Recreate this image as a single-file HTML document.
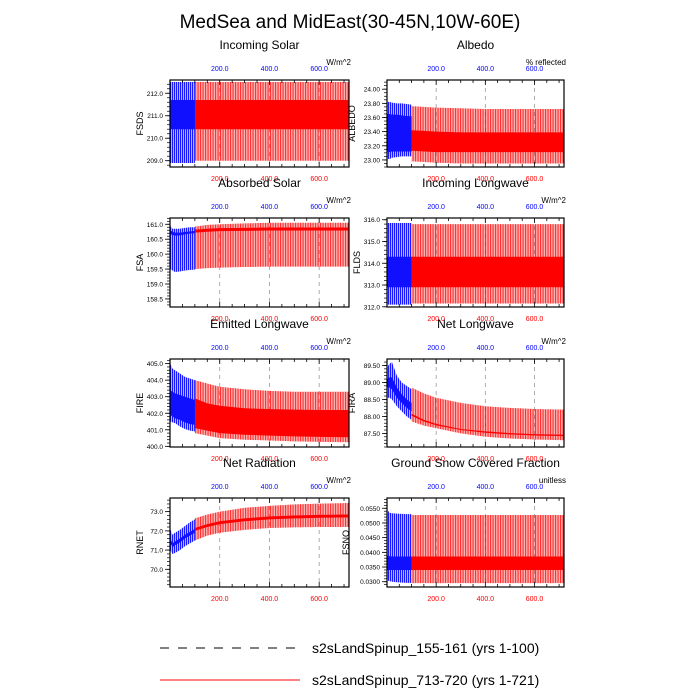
<!DOCTYPE html>
<html><head><meta charset="utf-8"><style>
body{margin:0;background:#fff;}
svg{display:block;font-family:"Liberation Sans",sans-serif;}
</style></head><body>
<svg id="chart" width="700" height="700" viewBox="0 0 700 700">
<defs>
<pattern id="pr" width="2.5" height="10" patternUnits="userSpaceOnUse"><rect x="0" y="0" width="1.2" height="10" fill="#ff0000" fill-opacity="0.8"/><rect x="1.2" y="0" width="1.3" height="10" fill="#ff0000" fill-opacity="0.3"/></pattern>
<pattern id="pb" width="2" height="10" patternUnits="userSpaceOnUse"><rect x="0" y="0" width="1" height="10" fill="#0000ff" fill-opacity="0.9"/><rect x="1" y="0" width="1" height="10" fill="#0000ff" fill-opacity="0.3"/></pattern>
</defs>
<text x="350" y="28" text-anchor="middle" font-size="19">MedSea and MidEast(30-45N,10W-60E)</text>
<g>
<line x1="160" y1="648" x2="300" y2="648" stroke="#000" stroke-width="1" stroke-dasharray="9,9"/>
<text x="312" y="653" font-size="14">s2sLandSpinup_155-161 (yrs 1-100)</text>
<line x1="160" y1="680" x2="300" y2="680" stroke="#ff0000" stroke-width="1"/>
<text x="312" y="685" font-size="14">s2sLandSpinup_713-720 (yrs 1-721)</text>
</g>
</svg>
<script>
const blueYears = [1, 10, 20, 40, 60, 80, 100];
const redYears = [100, 150, 200, 300, 400, 500, 600, 721];
const xTicks = [200, 400, 600];
const xTickLabels = ["200.0", "400.0", "600.0"];

// FSDS
const fsdsBlueMax = [212.5, 212.5, 212.5, 212.5, 212.5, 212.5, 212.5];
const fsdsBlueMin = [208.9, 208.9, 208.9, 208.9, 208.9, 208.9, 208.9];
const fsdsBlueHi = [211.7, 211.7, 211.7, 211.7, 211.7, 211.7, 211.7];
const fsdsBlueLo = [210.4, 210.4, 210.4, 210.4, 210.4, 210.4, 210.4];
const fsdsRedMax = [212.5, 212.5, 212.5, 212.5, 212.5, 212.5, 212.5, 212.5];
const fsdsRedMin = [209.0, 209.0, 209.0, 209.0, 209.0, 209.0, 209.0, 209.0];
const fsdsRedHi = [211.7, 211.7, 211.7, 211.7, 211.7, 211.7, 211.7, 211.7];
const fsdsRedLo = [210.4, 210.4, 210.4, 210.4, 210.4, 210.4, 210.4, 210.4];
const fsdsTicks = [209.0, 210.0, 211.0, 212.0];

// ALBEDO
const albBlueMax = [23.82, 23.82, 23.81, 23.80, 23.80, 23.79, 23.78];
const albBlueMin = [23.02, 23.01, 23.03, 23.04, 23.05, 23.05, 23.05];
const albBlueHi = [23.65, 23.65, 23.64, 23.64, 23.63, 23.62, 23.62];
const albBlueLo = [23.12, 23.11, 23.12, 23.12, 23.12, 23.12, 23.12];
const albRedMax = [23.76, 23.75, 23.74, 23.73, 23.72, 23.72, 23.72, 23.72];
const albRedMin = [22.98, 22.97, 22.96, 22.95, 22.95, 22.95, 22.95, 22.95];
const albRedHi = [23.42, 23.41, 23.40, 23.39, 23.39, 23.39, 23.39, 23.39];
const albRedLo = [23.13, 23.12, 23.11, 23.11, 23.11, 23.11, 23.11, 23.11];
const albTicks = [23.0, 23.2, 23.4, 23.6, 23.8, 24.0];

// FSA
const fsaBlueMax = [160.95, 160.85, 160.85, 160.85, 160.88, 160.9, 160.9];
const fsaBlueMin = [159.5, 159.45, 159.4, 159.42, 159.45, 159.47, 159.48];
const fsaBlueHi = [160.8, 160.75, 160.72, 160.72, 160.74, 160.76, 160.78];
const fsaBlueLo = [160.68, 160.64, 160.62, 160.63, 160.66, 160.69, 160.7];
const fsaRedMax = [160.92, 160.98, 161.0, 161.03, 161.05, 161.05, 161.05, 161.05];
const fsaRedMin = [159.5, 159.53, 159.55, 159.57, 159.58, 159.58, 159.58, 159.58];
const fsaRedHi = [160.82, 160.85, 160.87, 160.88, 160.89, 160.89, 160.89, 160.89];
const fsaRedLo = [160.72, 160.75, 160.77, 160.78, 160.79, 160.79, 160.79, 160.79];
const fsaTicks = [158.5, 159.0, 159.5, 160.0, 160.5, 161.0];

// FLDS
const fldsBlueMax = [315.85, 315.85, 315.85, 315.85, 315.85, 315.85, 315.85];
const fldsBlueMin = [312.1, 312.1, 312.1, 312.1, 312.1, 312.1, 312.1];
const fldsBlueHi = [314.3, 314.3, 314.3, 314.3, 314.3, 314.3, 314.3];
const fldsBlueLo = [312.9, 312.9, 312.9, 312.9, 312.9, 312.9, 312.9];
const fldsRedMax = [315.8, 315.8, 315.8, 315.8, 315.8, 315.8, 315.8, 315.8];
const fldsRedMin = [312.15, 312.15, 312.15, 312.15, 312.15, 312.15, 312.15, 312.15];
const fldsRedHi = [314.3, 314.3, 314.3, 314.3, 314.3, 314.3, 314.3, 314.3];
const fldsRedLo = [312.9, 312.9, 312.9, 312.9, 312.9, 312.9, 312.9, 312.9];
const fldsTicks = [312.0, 313.0, 314.0, 315.0, 316.0];

// FIRE
const fireBlueMax = [405.0, 404.7, 404.6, 404.4, 404.2, 404.1, 404.0];
const fireBlueMin = [401.5, 401.45, 401.4, 401.2, 401.05, 400.95, 400.9];
const fireBlueHi = [403.4, 403.3, 403.2, 403.1, 403.0, 402.9, 402.8];
const fireBlueLo = [401.9, 401.8, 401.7, 401.6, 401.45, 401.35, 401.3];
const fireRedMax = [404.0, 403.8, 403.6, 403.45, 403.35, 403.3, 403.3, 403.3];
const fireRedMin = [400.8, 400.65, 400.5, 400.4, 400.35, 400.3, 400.27, 400.25];
const fireRedHi = [402.9, 402.6, 402.45, 402.3, 402.25, 402.22, 402.2, 402.2];
const fireRedLo = [401.1, 400.95, 400.8, 400.7, 400.65, 400.6, 400.57, 400.55];
const fireTicks = [400.0, 401.0, 402.0, 403.0, 404.0, 405.0];

// FIRA
const firaBlueMax = [89.45, 89.55, 89.6, 89.2, 89.0, 88.9, 88.8];
const firaBlueMin = [88.55, 88.55, 88.5, 88.3, 88.15, 88.0, 87.9];
const firaBlueHi = [89.1, 89.15, 89.15, 88.85, 88.65, 88.5, 88.4];
const firaBlueLo = [88.85, 88.85, 88.8, 88.55, 88.4, 88.25, 88.15];
const firaRedMax = [88.85, 88.68, 88.55, 88.4, 88.3, 88.25, 88.22, 88.2];
const firaRedMin = [87.85, 87.73, 87.65, 87.5, 87.4, 87.35, 87.32, 87.3];
const firaRedHi = [88.08, 87.9, 87.78, 87.63, 87.56, 87.51, 87.48, 87.46];
const firaRedLo = [88.02, 87.85, 87.74, 87.6, 87.52, 87.47, 87.44, 87.42];
const firaTicks = [87.5, 88.0, 88.5, 89.0, 89.5];

// RNET
const rnetBlueMax = [72.1, 71.8, 71.9, 72.05, 72.25, 72.45, 72.6];
const rnetBlueMin = [71.0, 70.8, 70.85, 71.0, 71.2, 71.35, 71.5];
const rnetBlueHi = [71.6, 71.35, 71.45, 71.6, 71.8, 71.95, 72.1];
const rnetBlueLo = [71.4, 71.15, 71.25, 71.4, 71.6, 71.75, 71.9];
const rnetRedMax = [72.65, 72.85, 73.0, 73.2, 73.3, 73.38, 73.42, 73.45];
const rnetRedMin = [71.5, 71.75, 71.9, 72.05, 72.15, 72.18, 72.2, 72.2];
const rnetRedHi = [72.15, 72.35, 72.5, 72.65, 72.75, 72.8, 72.83, 72.85];
const rnetRedLo = [72.0, 72.2, 72.35, 72.5, 72.6, 72.65, 72.68, 72.7];
const rnetTicks = [70.0, 71.0, 72.0, 73.0];

// FSNO
const fsnoBlueMax = [0.0545, 0.0535, 0.0533, 0.0532, 0.0531, 0.053, 0.053];
const fsnoBlueMin = [0.0305, 0.0302, 0.03, 0.0298, 0.0297, 0.0296, 0.0296];
const fsnoBlueHi = [0.0388, 0.0387, 0.0386, 0.0386, 0.0386, 0.0386, 0.0386];
const fsnoBlueLo = [0.034, 0.034, 0.034, 0.034, 0.034, 0.034, 0.034];
const fsnoRedMax = [0.0527, 0.0527, 0.0527, 0.0527, 0.0527, 0.0527, 0.0527, 0.0527];
const fsnoRedMin = [0.0295, 0.0295, 0.0295, 0.0295, 0.0295, 0.0295, 0.0295, 0.0295];
const fsnoRedHi = [0.0386, 0.0386, 0.0386, 0.0386, 0.0386, 0.0386, 0.0386, 0.0386];
const fsnoRedLo = [0.034, 0.034, 0.034, 0.034, 0.034, 0.034, 0.034, 0.034];
const fsnoTicks = [0.030, 0.035, 0.040, 0.045, 0.050, 0.055];

const NS = "http://www.w3.org/2000/svg";
const svg = document.getElementById("chart");
function mk(tag, attrs, parent) {
  const e = document.createElementNS(NS, tag);
  for (const k in attrs) e.setAttribute(k, attrs[k]);
  (parent || svg).appendChild(e);
  return e;
}
const cols = [{x0: 170, x1: 349}, {x0: 387, x1: 564}];
const rows = [{y0: 80, y1: 167}, {y0: 218, y1: 307}, {y0: 359, y1: 447}, {y0: 498, y1: 587}];

const panels = [
  {key: "fsds", title: "Incoming Solar", yl: "FSDS", unit: "W/m^2", c: 0, r: 0, ymin: 208.72, ymax: 212.59, ticks: fsdsTicks, dec: 1, minor: 0.2,
   b: [fsdsBlueMax, fsdsBlueMin, fsdsBlueHi, fsdsBlueLo], rd: [fsdsRedMax, fsdsRedMin, fsdsRedHi, fsdsRedLo]},
  {key: "albedo", title: "Albedo", yl: "ALBEDO", unit: "% reflected", c: 1, r: 0, ymin: 22.90, ymax: 24.13, ticks: albTicks, dec: 2, minor: 0.05,
   b: [albBlueMax, albBlueMin, albBlueHi, albBlueLo], rd: [albRedMax, albRedMin, albRedHi, albRedLo]},
  {key: "fsa", title: "Absorbed Solar", yl: "FSA", unit: "W/m^2", c: 0, r: 1, ymin: 158.23, ymax: 161.21, ticks: fsaTicks, dec: 1, minor: 0.1,
   b: [fsaBlueMax, fsaBlueMin, fsaBlueHi, fsaBlueLo], rd: [fsaRedMax, fsaRedMin, fsaRedHi, fsaRedLo]},
  {key: "flds", title: "Incoming Longwave", yl: "FLDS", unit: "W/m^2", c: 1, r: 1, ymin: 311.99, ymax: 316.08, ticks: fldsTicks, dec: 1, minor: 0.2,
   b: [fldsBlueMax, fldsBlueMin, fldsBlueHi, fldsBlueLo], rd: [fldsRedMax, fldsRedMin, fldsRedHi, fldsRedLo]},
  {key: "fire", title: "Emitted Longwave", yl: "FIRE", unit: "W/m^2", c: 0, r: 2, ymin: 399.96, ymax: 405.28, ticks: fireTicks, dec: 1, minor: 0.2,
   b: [fireBlueMax, fireBlueMin, fireBlueHi, fireBlueLo], rd: [fireRedMax, fireRedMin, fireRedHi, fireRedLo]},
  {key: "fira", title: "Net Longwave", yl: "FIRA", unit: "W/m^2", c: 1, r: 2, ymin: 87.10, ymax: 89.69, ticks: firaTicks, dec: 2, minor: 0.1,
   b: [firaBlueMax, firaBlueMin, firaBlueHi, firaBlueLo], rd: [firaRedMax, firaRedMin, firaRedHi, firaRedLo]},
  {key: "rnet", title: "Net Radiation", yl: "RNET", unit: "W/m^2", c: 0, r: 3, ymin: 69.08, ymax: 73.71, ticks: rnetTicks, dec: 1, minor: 0.2,
   b: [rnetBlueMax, rnetBlueMin, rnetBlueHi, rnetBlueLo], rd: [rnetRedMax, rnetRedMin, rnetRedHi, rnetRedLo]},
  {key: "fsno", title: "Ground Snow Covered Fraction", yl: "FSNO", unit: "unitless", c: 1, r: 3, ymin: 0.0282, ymax: 0.0585, ticks: fsnoTicks, dec: 4, minor: 0.001,
   b: [fsnoBlueMax, fsnoBlueMin, fsnoBlueHi, fsnoBlueLo], rd: [fsnoRedMax, fsnoRedMin, fsnoRedHi, fsnoRedLo]}
];

function band(g, xs, hi, lo, xf, yf, fill) {
  let d = "";
  for (let i = 0; i < xs.length; i++) d += (i ? "L" : "M") + xf(xs[i]).toFixed(2) + "," + yf(hi[i]).toFixed(2);
  for (let i = xs.length - 1; i >= 0; i--) d += "L" + xf(xs[i]).toFixed(2) + "," + yf(lo[i]).toFixed(2);
  return mk("path", {d: d + "Z", fill: fill, stroke: "none"}, g);
}

panels.forEach(p => {
  const X0 = cols[p.c].x0, X1 = cols[p.c].x1, Y0 = rows[p.r].y0, Y1 = rows[p.r].y1;
  const xf = v => X0 + (v - 0) / (720 - 0) * (X1 - X0);
  const yf = v => Y1 - (v - p.ymin) / (p.ymax - p.ymin) * (Y1 - Y0);
  const cx = (X0 + X1) / 2;
  const g = mk("g", {});
  
  
  const t = mk("text", {x: cx, y: Y0 - 31, "text-anchor": "middle", "font-size": "12"}, g);
  t.textContent = p.title;
  
  
  const u = mk("text", {x: X1 + 2, y: Y0 - 15, "text-anchor": "end", "font-size": "8"}, g);
  u.textContent = p.unit;
  
  
  xTicks.forEach((v, i) => {
    const gl = mk("line", {x1: xf(v), x2: xf(v), y1: Y0, y2: Y1, stroke: "#999", "stroke-width": "0.8", "stroke-dasharray": "4,4"}, g);
    
    
    const tl = mk("text", {x: xf(v), y: Y0 - 9, "text-anchor": "middle", "font-size": "7", fill: "#0000ff"}, g);
    tl.textContent = xTickLabels[i];
    
    
    const bl = mk("text", {x: xf(v), y: Y1 + 14, "text-anchor": "middle", "font-size": "7", fill: "#ff0000"}, g);
    bl.textContent = xTickLabels[i];
    
    
  });
  const rb = band(g, redYears, p.rd[0], p.rd[1], xf, yf, "url(#pr)");
  
  
  const rc = band(g, redYears, p.rd[2], p.rd[3], xf, yf, "#ff0000");
  
  
  const bb = band(g, blueYears, p.b[0], p.b[1], xf, yf, "url(#pb)");
  
  
  const bc = band(g, blueYears, p.b[2], p.b[3], xf, yf, "#1010ff");
  
  
  for (let v = 50; v < 720; v += 50) {
    const len = (v % 200 === 0) ? 5 : 3;
    mk("line", {x1: xf(v), x2: xf(v), y1: Y0, y2: Y0 + len, stroke: "#000", "stroke-width": "0.8"}, g);
    mk("line", {x1: xf(v), x2: xf(v), y1: Y1, y2: Y1 - len, stroke: "#000", "stroke-width": "0.8"}, g);
  }
  const lo = p.ticks[0], step = p.minor;
  for (let k = -20; k < 200; k++) {
    const v = lo + k * step;
    if (v < p.ymin || v > p.ymax) continue;
    mk("line", {x1: X0, x2: X0 - 3, y1: yf(v), y2: yf(v), stroke: "#000", "stroke-width": "0.7"}, g);
  }
  p.ticks.forEach(v => {
    mk("line", {x1: X0, x2: X0 - 5, y1: yf(v), y2: yf(v), stroke: "#000", "stroke-width": "0.8"}, g);
    const yt = mk("text", {x: X0 - 7, y: yf(v) + 2.5, "text-anchor": "end", "font-size": "6.5"}, g);
    yt.textContent = v.toFixed(p.dec);
    
    
  });
  const lx = X0 - (p.dec >= 4 ? 38 : (p.dec >= 2 ? 32 : 27));
  const yl = mk("text", {x: lx, y: (Y0 + Y1) / 2, "text-anchor": "middle", "font-size": "9", transform: "rotate(-90 " + lx + " " + (Y0 + Y1) / 2 + ")"}, g);
  yl.textContent = p.yl;
  
  
  const fr = mk("rect", {x: X0, y: Y0, width: X1 - X0, height: Y1 - Y0, fill: "none", stroke: "#000", "stroke-width": "1.2"}, g);
  
  
});
</script>
</body></html>
